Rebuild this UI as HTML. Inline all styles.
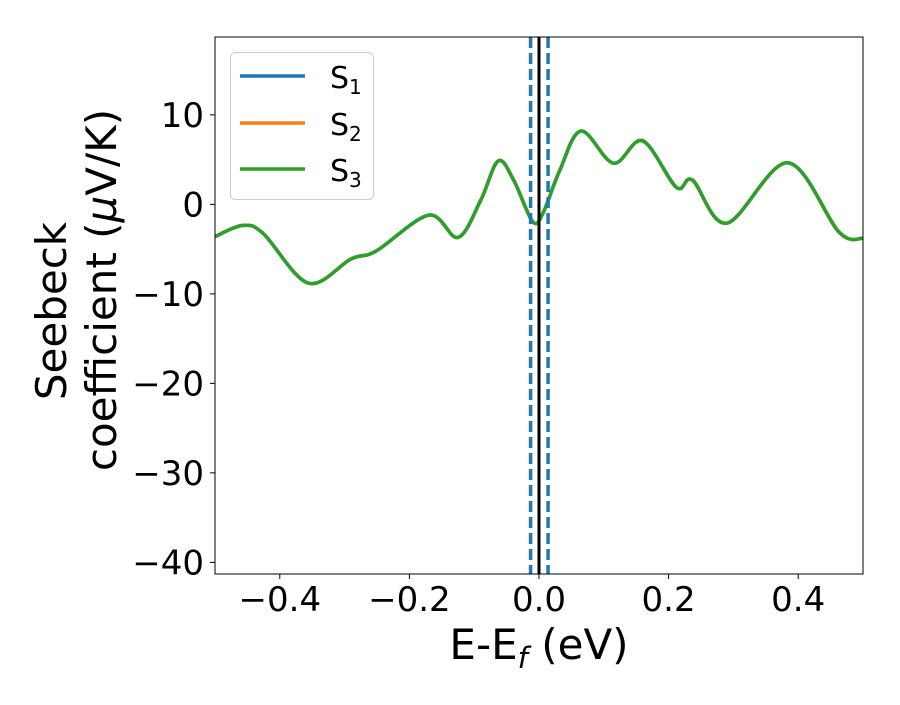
<!DOCTYPE html>
<html><head><meta charset="utf-8"><style>
body{margin:0;background:#fff}
svg text{font-family:"DejaVu Sans","Liberation Sans",sans-serif;fill:#000}
</style></head><body>
<svg id="chart" width="900" height="700">
<rect width="900" height="700" fill="#fff"/>
<g id="plot"></g>
<g id="axes"></g>
</svg>
<script>
const energies=[-0.5,-0.457,-0.425,-0.356,-0.29,-0.251,-0.17,-0.125,-0.09,-0.063,-0.039,-0.01,0.006,0.032,0.065,0.115,0.16,0.212,0.237,0.29,0.384,0.463,0.5];
const seebeck=[-3.6,-2.35,-3.3,-8.8,-6.1,-5.2,-1.2,-3.7,0.45,4.85,2.7,-1.9,-1.0,3.8,8.2,4.6,7.1,1.9,2.7,-2.1,4.65,-3.1,-3.8];
const xTicks=[-0.4,-0.2,0.0,0.2,0.4];
const xTickLabels=["\u22120.4","\u22120.2","0.0","0.2","0.4"];
const yTicks=[10,0,-10,-20,-30,-40];
const yTickLabels=["10","0","\u221210","\u221220","\u221230","\u221240"];
const vLines=[-0.013,0.014];
const L=215,R=863,T=37,B=574;
const xMin=-0.5,xMax=0.5,yMin=-41.3,yMax=18.7;
const sx=v=>L+(v-xMin)/(xMax-xMin)*(R-L);
const sy=v=>B-(v-yMin)/(yMax-yMin)*(B-T);
const NS="http://www.w3.org/2000/svg";
const plot=document.getElementById('plot'),axes=document.getElementById('axes');
function mk(tag,attrs,parent){const e=document.createElementNS(NS,tag);for(const k in attrs)e.setAttribute(k,attrs[k]);parent.appendChild(e);return e;}
const pts=energies.map((e,i)=>[sx(e),sy(seebeck[i])]);
let d="M"+pts[0][0]+","+pts[0][1];
for(let i=0;i<pts.length-1;i++){const p0=pts[Math.max(0,i-1)],p1=pts[i],p2=pts[i+1],p3=pts[Math.min(pts.length-1,i+2)];
d+=" C"+(p1[0]+(p2[0]-p0[0])/6)+","+(p1[1]+(p2[1]-p0[1])/6)+" "+(p2[0]-(p3[0]-p1[0])/6)+","+(p2[1]-(p3[1]-p1[1])/6)+" "+p2[0]+","+p2[1];}
const cols=["#1f77b4","#ff7f0e","#2ca02c"];
cols.forEach((c,i)=>{const p=mk('path',{d:d,fill:'none',stroke:c,'stroke-width':3.5},plot);

});
const fl=mk('line',{x1:sx(0),x2:sx(0),y1:T,y2:B,stroke:'#000','stroke-width':3},plot);


vLines.forEach(v=>{const l=mk('line',{x1:sx(v),x2:sx(v),y1:T,y2:B,stroke:'#1f77b4','stroke-width':3.5,'stroke-dasharray':'11,5'},plot);

});
const fr=mk('rect',{x:L,y:T,width:R-L,height:B-T,fill:'none',stroke:'#000','stroke-width':1},axes);


xTicks.forEach((v,i)=>{const x=sx(v);mk('line',{x1:x,x2:x,y1:B,y2:B+5,stroke:'#000'},axes);
const t=mk('text',{x:x,y:611,'text-anchor':'middle','font-size':34},axes);t.textContent=xTickLabels[i];

});
yTicks.forEach((v,i)=>{const y=sy(v);mk('line',{x1:L-5,x2:L,y1:y,y2:y,stroke:'#000'},axes);
const t=mk('text',{x:L-11,y:y+12,'text-anchor':'end','font-size':34},axes);t.textContent=yTickLabels[i];

});
</script>
<svg style="position:absolute;left:0;top:0" width="900" height="700">
<text x="539" y="659" text-anchor="middle" font-size="42">E-E<tspan font-style="italic" font-size="29" dy="9">f</tspan><tspan dy="-9"> (eV)</tspan></text>
<text transform="translate(66,311) rotate(-90)" text-anchor="middle" font-size="42">Seebeck</text>
<text transform="translate(116,290) rotate(-90)" text-anchor="middle" font-size="42">coefficient  (<tspan font-style="italic">μ</tspan>V/K)</text>
<g>
<rect x="230.5" y="52.5" width="143" height="147" rx="5" fill="#fff" fill-opacity="0.8" stroke="#ccc"/>
<line x1="240" x2="305" y1="76" y2="76" stroke="#1f77b4" stroke-width="3.5"/>
<text x="330" y="88" font-size="30">S<tspan font-size="20" dy="6">1</tspan></text>
<line x1="240" x2="305" y1="123" y2="123" stroke="#ff7f0e" stroke-width="3.5"/>
<text x="330" y="135" font-size="30">S<tspan font-size="20" dy="6">2</tspan></text>
<line x1="240" x2="305" y1="169" y2="169" stroke="#2ca02c" stroke-width="3.5"/>
<text x="330" y="181" font-size="30">S<tspan font-size="20" dy="6">3</tspan></text>
</g>
</svg>
</body></html>
